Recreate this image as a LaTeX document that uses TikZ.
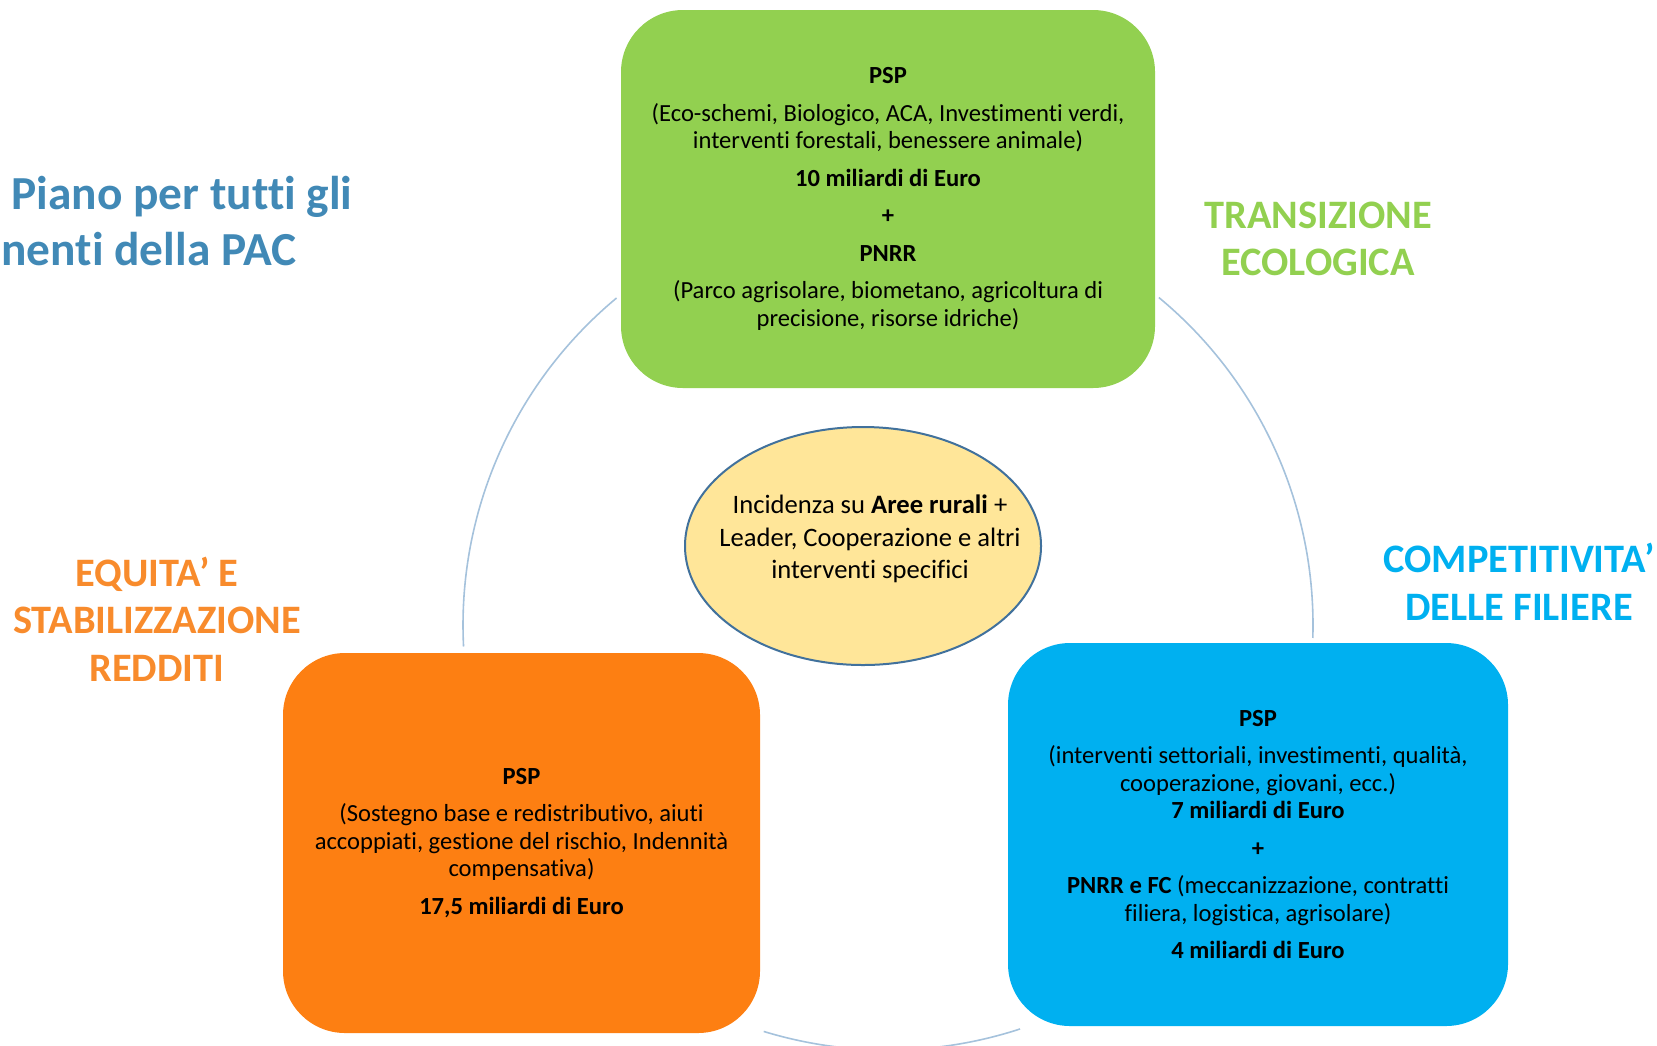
\documentclass[tikz,border=0pt]{standalone}
\usepackage{fontspec}
\setmainfont{Carlito}[Ligatures=NoCommon]
\usetikzlibrary{shapes.geometric}

\definecolor{ecogreen}{HTML}{92D050}
\definecolor{equityorange}{HTML}{FD7F12}
\definecolor{equitylabel}{HTML}{F88B2C}
\definecolor{filiereblue}{HTML}{00B0F0}
\definecolor{ruralyellow}{HTML}{FFE699}
\definecolor{ruralborder}{HTML}{41719C}
\definecolor{ringblue}{HTML}{A5C2DC}
\definecolor{titleblue}{HTML}{4189B6}

\begin{document}
\begin{tikzpicture}[x=0.5pt,y=-0.5pt,
    boxtext/.style={align=center,font=\fontsize{12.3}{13.75}\selectfont},
    pillar/.style={boxtext,rounded corners=31pt},
    ringline/.style={draw=ringblue,line width=0.8pt},
    goal/.style={align=center,font=\fontsize{20.2}{23.75}\selectfont\bfseries},
    heading/.style={inner sep=0pt,text=titleblue,font=\fontsize{23.7}{27.5}\selectfont\bfseries}]
  \useasboundingbox (0,0) rectangle (1657,1045);

  % ring segments between the three pillars
  \coordinate (ringcentre) at (888,625);
  \foreach \from/\to in {-129.7/-182.9, -50.4/1.75, 71.9/107}
    \draw[ringline] (ringcentre) ++(\from:425) arc[start angle=\from, end angle=\to, radius=425];

  \begin{scope}
    \node[pillar,fill=ecogreen,minimum width=267pt,minimum height=189pt] (ecobox) at (888,199)
      {\textbf{PSP}\\[5pt]
       (Eco-schemi, Biologico, ACA, Investimenti verdi,\\
       interventi forestali, benessere animale)\\[5pt]
       \textbf{10 miliardi di Euro}\\[5pt]
       \textbf{+}\\[5pt]
       \textbf{PNRR}\\[5pt]
       (Parco agrisolare, biometano, agricoltura di\\
       precisione, risorse idriche)};
    \node[pillar,fill=equityorange,minimum width=238.5pt,minimum height=190pt] (equitybox) at (521.5,843)
      {\textbf{PSP}\\[5pt]
       (Sostegno base e redistributivo, aiuti\\
       accoppiati, gestione del rischio, Indennità\\
       compensativa)\\[5pt]
       \textbf{17,5 miliardi di Euro}};
    \node[pillar,fill=filiereblue,minimum width=250pt,minimum height=191.5pt] (filierebox) at (1258,834.5)
      {\textbf{PSP}\\[5pt]
       (interventi settoriali, investimenti, qualità,\\
       cooperazione, giovani, ecc.)\\
       \textbf{7 miliardi di Euro}\\[5pt]
       \textbf{+}\\[5pt]
       \textbf{PNRR e FC} (meccanizzazione, contratti\\
       filiera, logistica, agrisolare)\\[5pt]
       \textbf{4 miliardi di Euro}};
  \end{scope}

  \node[ellipse,draw=ruralborder,line width=1pt,fill=ruralyellow,minimum width=178pt,minimum height=119pt] (ruralshape) at (863,546) {};
  \node[align=center,font=\fontsize{13.3}{16.2}\selectfont] (rural) at (870,539)
    {Incidenza su \textbf{Aree rurali} +\\ Leader, Cooperazione e altri\\ interventi specifici};

  \node[goal,text=ecogreen] (ecolabel) at (1318,239) {TRANSIZIONE\\ ECOLOGICA};
  \node[goal,text=filiereblue] (filierelabel) at (1519,582) {COMPETITIVITA’\\ DELLE FILIERE};
  \node[goal,text=equitylabel] (equitylabel) at (157,619) {EQUITA’ E\\ STABILIZZAZIONE\\ REDDITI};

  \node[heading,anchor=base west] (title1) at (11,209) {Piano per tutti gli};
  \node[heading,anchor=base west] (title2) at (1,265) {nenti della PAC};
\end{tikzpicture}
\end{document}
